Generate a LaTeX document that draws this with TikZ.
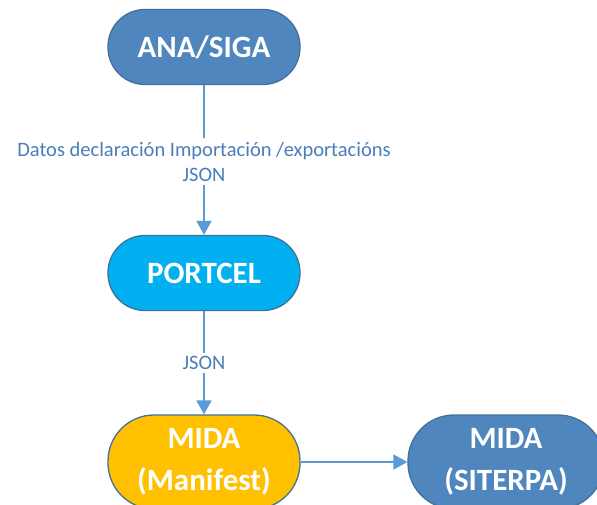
\documentclass[tikz,border=0pt]{standalone}
\usepackage{fontspec}
\setmainfont{Carlito}
\usepackage{tikz}
\usetikzlibrary{arrows.meta}
\definecolor{boxblue}{HTML}{4F86BE}
\definecolor{boxcyan}{HTML}{00B0F0}
\definecolor{boxgold}{HTML}{FFC000}
\definecolor{boxline}{HTML}{41719C}
\definecolor{flowblue}{HTML}{5B9BD5}
\definecolor{labelblue}{HTML}{4A7EBB}

\begin{document}
\begin{tikzpicture}[x=1pt, y=-1pt,
        stadium/.style={draw=boxline, line width=1.3pt, rounded corners=37pt,
            minimum width=192pt, minimum height=75pt, text=white,
            font=\fontsize{31}{42}\selectfont\bfseries, align=center},
        flow/.style={draw=flowblue, line width=2pt, -{Triangle[length=14pt, width=15pt]}},
        flowlabel/.style={fill=white, text=labelblue, font=\fontsize{20.5}{25}\selectfont, align=center}]
        \useasboundingbox (0,0) rectangle (597,505);

        \node[stadium, fill=boxblue] (ana) at (204,47) {ANA/SIGA};
        \node[stadium, fill=boxcyan] (portcel) at (204,273) {PORTCEL};
        \node[stadium, fill=boxgold, minimum height=94pt, rounded corners=46pt] (manifest) at (204,462) {MIDA\\(Manifest)};
        \node[stadium, fill=boxblue, minimum height=94pt, rounded corners=46pt, minimum width=196pt] (siterpa) at (506,462) {MIDA\\(SITERPA)};

        \draw[flow] (ana) -- (portcel) node[flowlabel, pos=0.51] {Datos declaración Importación /exportacións\\JSON};
        \draw[flow] (portcel) -- (manifest) node[flowlabel, pos=0.5] {JSON};
        \draw[flow] (manifest) -- (siterpa);
    \end{tikzpicture}
\end{document}
